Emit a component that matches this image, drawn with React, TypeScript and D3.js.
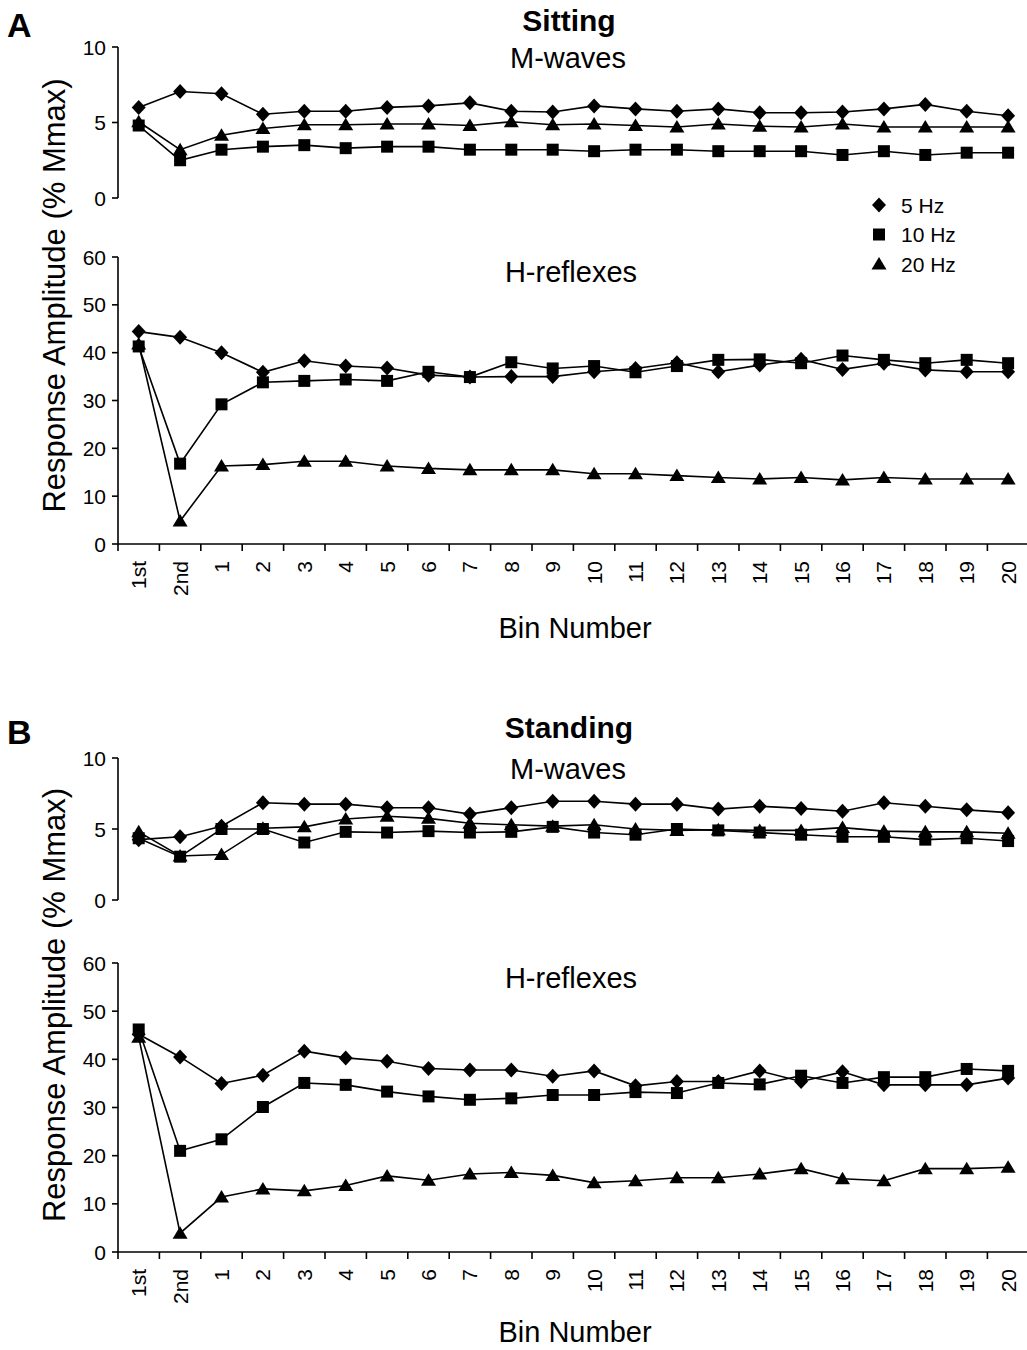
import * as d3 from 'd3';

const bins = ['1st', '2nd', '1', '2', '3', '4', '5', '6', '7', '8', '9', '10', '11', '12', '13', '14', '15', '16', '17', '18', '19', '20'];
const freqs = ['5 Hz', '10 Hz', '20 Hz'];

// A: sitting
const sitM5 = [6.0, 7.05, 6.9, 5.55, 5.75, 5.75, 6.0, 6.1, 6.3, 5.75, 5.7, 6.1, 5.9, 5.75, 5.9, 5.65, 5.65, 5.7, 5.9, 6.2, 5.75, 5.45];
const sitM10 = [4.8, 2.5, 3.2, 3.4, 3.5, 3.3, 3.4, 3.4, 3.2, 3.2, 3.2, 3.1, 3.2, 3.2, 3.1, 3.1, 3.1, 2.85, 3.1, 2.85, 3.0, 3.0];
const sitM20 = [5.05, 3.2, 4.15, 4.6, 4.85, 4.85, 4.9, 4.9, 4.8, 5.05, 4.85, 4.9, 4.8, 4.7, 4.9, 4.75, 4.7, 4.9, 4.7, 4.7, 4.7, 4.7];
const sitH5 = [44.4, 43.2, 40.0, 35.9, 38.3, 37.2, 36.8, 35.3, 34.9, 35.0, 35.0, 36.0, 36.7, 37.9, 36.0, 37.4, 38.6, 36.5, 37.8, 36.4, 36.0, 36.0];
const sitH10 = [41.3, 16.8, 29.2, 33.8, 34.1, 34.4, 34.1, 36.0, 34.9, 38.0, 36.7, 37.2, 35.9, 37.2, 38.5, 38.6, 37.8, 39.4, 38.5, 37.8, 38.5, 37.8];
const sitH20 = [41.8, 4.8, 16.3, 16.6, 17.3, 17.3, 16.3, 15.8, 15.5, 15.5, 15.5, 14.7, 14.7, 14.3, 13.9, 13.6, 13.9, 13.4, 13.9, 13.6, 13.6, 13.6];

// B: standing
const stdM5 = [4.25, 4.45, 5.2, 6.85, 6.75, 6.75, 6.5, 6.5, 6.05, 6.5, 6.95, 6.95, 6.75, 6.75, 6.4, 6.6, 6.45, 6.25, 6.85, 6.6, 6.35, 6.15];
const stdM10 = [4.35, 3.05, 5.0, 5.0, 4.05, 4.8, 4.75, 4.85, 4.75, 4.8, 5.15, 4.75, 4.6, 5.0, 4.9, 4.75, 4.6, 4.45, 4.45, 4.25, 4.35, 4.15];
const stdM20 = [4.8, 3.1, 3.2, 5.05, 5.15, 5.7, 5.9, 5.75, 5.4, 5.3, 5.2, 5.3, 5.0, 4.9, 4.95, 4.9, 4.9, 5.1, 4.85, 4.8, 4.8, 4.7];
const stdH5 = [45.2, 40.5, 35.0, 36.7, 41.7, 40.3, 39.6, 38.1, 37.8, 37.8, 36.5, 37.6, 34.5, 35.4, 35.4, 37.6, 35.4, 37.4, 34.7, 34.7, 34.7, 36.1];
const stdH10 = [46.2, 21.0, 23.4, 30.1, 35.1, 34.7, 33.3, 32.3, 31.6, 31.9, 32.6, 32.6, 33.2, 33.0, 35.1, 34.8, 36.6, 35.1, 36.3, 36.3, 38.0, 37.6];
const stdH20 = [44.6, 3.9, 11.4, 13.1, 12.7, 13.8, 15.8, 14.9, 16.2, 16.5, 15.9, 14.4, 14.8, 15.4, 15.4, 16.2, 17.3, 15.2, 14.8, 17.3, 17.3, 17.6];

const mTicks = [0, 5, 10];
const hTicks = [0, 10, 20, 30, 40, 50, 60];

const FONT = '"Liberation Sans", Arial, Helvetica, sans-serif';
const shapes = ['diamond', 'square', 'triangle'];

const markerPath = (shape: string) => {
  if (shape === 'diamond') return 'M0,-7.5L7,0L0,7.5L-7,0Z';
  if (shape === 'square') return 'M-6,-6H6V6H-6Z';
  return 'M0,-7L7.5,5.5H-7.5Z';
};

const x = d3.scaleBand<string>().domain(bins).range([118, 118 + 22 * 41.4]);
const xc = (b: string) => (x(b) as number) + x.bandwidth() / 2;

function Series({ values, y, shape }: { values: number[]; y: d3.ScaleLinear<number, number>; shape: string }) {
  const line = d3.line<number>().x((_, i) => xc(bins[i])).y(d => y(d));
  return (
    <g>
      <path d={line(values) || ''} fill="none" stroke="#000" strokeWidth={1.6} />
      {values.map((v, i) => (
        <path key={i} d={markerPath(shape)} transform={`translate(${xc(bins[i])},${y(v)})`} fill="#000" />
      ))}
    </g>
  );
}

function YAxis({ y, ticks }: { y: d3.ScaleLinear<number, number>; ticks: number[] }) {
  const [r0, r1] = y.range();
  return (
    <g>
      <line x1={118} x2={118} y1={r1} y2={r0} stroke="#000" strokeWidth={1.6} />
      {ticks.map(t => (
        <g key={t}>
          <line x1={112} x2={118} y1={y(t)} y2={y(t)} stroke="#000" strokeWidth={1.6} />
          <text x={106} y={y(t) + 7.5} textAnchor="end" fontSize={21} fontFamily={FONT}>{t}</text>
        </g>
      ))}
    </g>
  );
}

function Block({ top, mBase, mTop, hBase, hTop, letter, title, mData, hData, legend, binY }: any) {
  const yM = d3.scaleLinear().domain([0, 10]).range([mBase, mTop]);
  const yH = d3.scaleLinear().domain([0, 60]).range([hBase, hTop]);
  return (
    <g>
      <text x={7} y={top + 37} fontSize={34} fontWeight="bold" fontFamily={FONT}>{letter}</text>
      <text x={569} y={top + 31} textAnchor="middle" fontSize={30} fontWeight="bold" fontFamily={FONT}>{title}</text>
      <text x={568} y={mTop + 21} textAnchor="middle" fontSize={29} fontFamily={FONT}>M-waves</text>
      <text x={571} y={hTop + 25} textAnchor="middle" fontSize={29} fontFamily={FONT}>H-reflexes</text>

      <YAxis y={yM} ticks={mTicks} />
      <YAxis y={yH} ticks={hTicks} />

      <line x1={118} x2={1027} y1={hBase} y2={hBase} stroke="#000" strokeWidth={1.6} />
      {bins.map(b => (
        <g key={b}>
          <line x1={x(b)} x2={x(b)} y1={hBase} y2={hBase + 7} stroke="#000" strokeWidth={1.6} />
          <text transform={`translate(${xc(b) + 7.5},${hBase + 17}) rotate(-90)`} textAnchor="end" fontSize={21} fontFamily={FONT}>{b}</text>
        </g>
      ))}

      {mData.map((vals: number[], i: number) => <Series key={'m' + i} values={vals} y={yM} shape={shapes[i]} />)}
      {hData.map((vals: number[], i: number) => <Series key={'h' + i} values={vals} y={yH} shape={shapes[i]} />)}

      <text x={575} y={binY} textAnchor="middle" fontSize={29} fontFamily={FONT}>Bin Number</text>
      <text transform={`translate(65,${(mTop + hBase) / 2}) rotate(-90)`} textAnchor="middle" fontSize={31} fontFamily={FONT}>Response Amplitude (% Mmax)</text>

      {legend && freqs.map((f, i) => (
        <g key={f} transform={`translate(879,${205 + i * 29.5})`}>
          <path d={markerPath(shapes[i])} fill="#000" />
          <text x={22} y={7.5} fontSize={21} fontFamily={FONT}>{f}</text>
        </g>
      ))}
    </g>
  );
}

export default function App() {
  return (
    <svg width={1027} height={1350} style={{ position: 'absolute', left: 0, top: 0, background: '#fff' }}>
      <Block top={0} mBase={198} mTop={47} hBase={544} hTop={257} letter="A" title="Sitting" binY={638}
        mData={[sitM5, sitM10, sitM20]} hData={[sitH5, sitH10, sitH20]} legend />
      <Block top={707} mBase={900} mTop={758} hBase={1252} hTop={963} letter="B" title="Standing" binY={1342}
        mData={[stdM5, stdM10, stdM20]} hData={[stdH5, stdH10, stdH20]} legend={false} />
    </svg>
  );
}
